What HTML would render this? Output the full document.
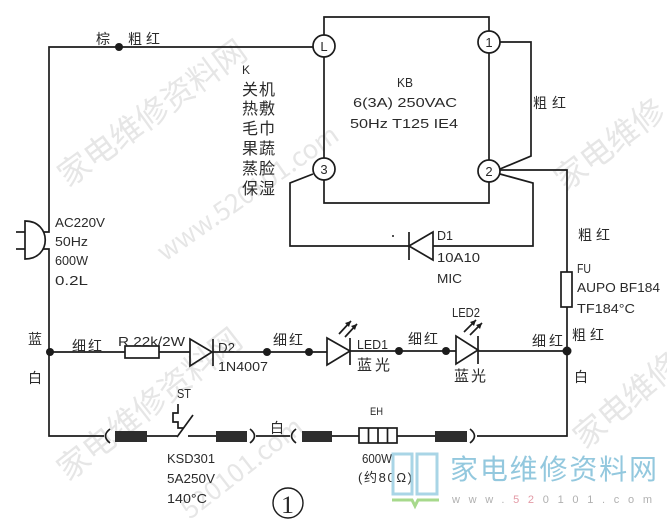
<!DOCTYPE html>
<html><head><meta charset="utf-8"><style>
html,body{margin:0;padding:0;background:#fff;overflow:hidden;width:667px;height:526px;}
svg{display:block;}
text{font-family:"Liberation Sans","Noto Sans CJK SC",sans-serif;fill:#2a2a2a;}
.cn{font-family:"Liberation Sans","Noto Sans CJK SC",sans-serif;}
.wm{font-family:"Noto Sans CJK SC",sans-serif;fill:#e6e6e6;}
</style></head><body>
<svg width="667" height="526" viewBox="0 0 667 526" xmlns="http://www.w3.org/2000/svg" overflow="hidden">
<rect width="667" height="526" fill="#fff"/>
<!-- watermarks -->
<g class="wm">
<text class="wm" x="0" y="0" font-size="32" transform="translate(68,188) rotate(-36)">家电维修资料网</text>
<text class="wm" x="0" y="0" font-size="26" transform="translate(165,262) rotate(-35)">www.520101.com</text>
<text class="wm" x="0" y="0" font-size="32" transform="translate(565,192) rotate(-37)">家电维修</text>
<text class="wm" x="0" y="0" font-size="32" transform="translate(68,482) rotate(-38)">家电维修资料网</text>
<text class="wm" x="0" y="0" font-size="26" transform="translate(190,520) rotate(-38)">520101.com</text>
<text class="wm" x="0" y="0" font-size="32" transform="translate(585,450) rotate(-40)">家电维修</text>
</g>

<g stroke="#1c1c1c" stroke-width="1.7" fill="none">
<!-- top wire and left wire -->
<polyline points="313,47 49,47 49,232 43,232"/>
<polyline points="43,249 49,249 49,436 104,436"/>
<!-- plug -->
<path d="M25,221 C52,221 52,259 25,259 Z"/>
<line x1="16" y1="232" x2="25" y2="232"/>
<line x1="16" y1="249" x2="25" y2="249"/>
<!-- KB box -->
<polyline points="324,35 324,17 489,17 489,31"/>
<line x1="489" y1="53" x2="489" y2="160"/>
<polyline points="489,182 489,203 324,203 324,180"/>
<line x1="324" y1="57" x2="324" y2="158"/>
<circle cx="324" cy="46" r="11"/>
<circle cx="324" cy="169" r="11"/>
<circle cx="489" cy="42" r="11"/>
<circle cx="489" cy="171" r="11"/>
<!-- from 1 -->
<polyline points="500,42 531,42 531,156 500,169"/>
<!-- from 2 right -->
<polyline points="500,170 567,170 567,272"/>
<polyline points="567,307 567,436 477,436"/>
<!-- lower loop -->
<polyline points="500,174 533,183 533,246 433,246"/>
<polyline points="409,246 290,246 290,183 313,174"/>
<!-- D1 -->
<polygon points="409,246 433,232 433,260"/>
<line x1="409" y1="232" x2="409" y2="260"/>
<!-- fuse -->
<rect x="561" y="272" width="11" height="35"/>
<!-- middle row -->
<line x1="49" y1="352" x2="125" y2="352"/>
<rect x="125" y="346" width="34" height="12"/>
<line x1="159" y1="352" x2="190" y2="352"/>
<polygon points="190,339 190,366 212,352"/>
<line x1="213" y1="339" x2="213" y2="366"/>
<line x1="213" y1="352" x2="327" y2="352"/>
<polygon points="327,338 327,365 350,351"/>
<line x1="350" y1="338" x2="350" y2="365"/>
<line x1="350" y1="351" x2="456" y2="351"/>
<polygon points="456,336 456,364 478,350"/>
<line x1="478" y1="336" x2="478" y2="364"/>
<line x1="478" y1="351" x2="567" y2="351"/>
<!-- LED arrows -->
<line x1="339" y1="334" x2="351" y2="321"/>
<line x1="345" y1="337" x2="357" y2="324"/>
<line x1="464" y1="332" x2="476" y2="320"/>
<line x1="470" y1="335" x2="482" y2="323"/>
<!-- bottom row -->
<path d="M110,429 Q101,436 110,443"/>
<line x1="147" y1="436" x2="177" y2="436"/>
<line x1="177" y1="437" x2="193" y2="415"/>
<polyline points="178,404 178,413 173,413 173,422 178,422 178,428 184,428"/>
<line x1="188" y1="436" x2="216" y2="436"/>
<path d="M250,429 Q259,436 250,443"/>
<line x1="256" y1="436" x2="290" y2="436"/>
<path d="M296,429 Q287,436 296,443"/>
<line x1="332" y1="436" x2="359" y2="436"/>
<rect x="359" y="428" width="38" height="15"/>
<line x1="368.5" y1="428" x2="368.5" y2="443"/>
<line x1="378" y1="428" x2="378" y2="443"/>
<line x1="387.5" y1="428" x2="387.5" y2="443"/>
<line x1="397" y1="436" x2="435" y2="436"/>
<path d="M470,429 Q479,436 470,443"/>
<!-- circled 1 -->
<circle cx="288" cy="503" r="15" stroke-width="1.4"/>
</g>
<!-- arrowheads -->
<g fill="#1c1c1c">
<polygon points="351,321 345,323 349,327"/>
<polygon points="357,324 351,326 355,330"/>
<polygon points="476,320 470,322 474,326"/>
<polygon points="482,323 476,325 480,329"/>
<!-- dots -->
<circle cx="119" cy="47" r="4"/>
<circle cx="50" cy="352" r="4"/>
<circle cx="267" cy="352" r="4"/>
<circle cx="309" cy="352" r="4"/>
<circle cx="399" cy="351" r="4"/>
<circle cx="446" cy="351" r="4"/>
<circle cx="567" cy="351" r="4.5"/>
<circle cx="393" cy="236" r="1"/>
<!-- sleeves -->
<rect x="115" y="431" width="32" height="11" fill="#2e2e2e"/>
<rect x="216" y="431" width="31" height="11" fill="#2e2e2e"/>
<rect x="302" y="431" width="30" height="11" fill="#2e2e2e"/>
<rect x="435" y="431" width="32" height="11" fill="#2e2e2e"/>
</g>

<!-- circle labels -->
<g font-size="13" text-anchor="middle">
<text x="324" y="51">L</text>
<text x="324" y="174">3</text>
<text x="489" y="47">1</text>
<text x="489" y="176">2</text>
</g>

<!-- labels -->
<g font-size="14" class="cn">
<text x="96" y="44">棕</text>
<text x="128" y="44" textLength="32">粗红</text>
<text x="242" y="74" font-size="12">K</text>
<text x="242" y="95" font-size="16" textLength="33">关机</text>
<text x="242" y="114" font-size="16" textLength="33">热敷</text>
<text x="242" y="134" font-size="16" textLength="33">毛巾</text>
<text x="242" y="154" font-size="16" textLength="33">果蔬</text>
<text x="242" y="174" font-size="16" textLength="33">蒸脸</text>
<text x="242" y="194" font-size="16" textLength="33">保湿</text>
<text x="533" y="108" textLength="33">粗红</text>
<text x="578" y="240" textLength="32">粗红</text>
<text x="28" y="344">蓝</text>
<text x="28" y="383">白</text>
<text x="72" y="351" textLength="30">细红</text>
<text x="273" y="345" textLength="30">细红</text>
<text x="408" y="344" textLength="30">细红</text>
<text x="532" y="346" textLength="31">细红</text>
<text x="572" y="340" textLength="32">粗红</text>
<text x="574" y="382">白</text>
<text x="357" y="370" font-size="15" textLength="33">蓝光</text>
<text x="454" y="381" font-size="15" textLength="32">蓝光</text>
<text x="270" y="433">白</text>
</g>
<g font-size="13">
<text x="397" y="87" textLength="16" lengthAdjust="spacingAndGlyphs">KB</text>
<text x="353" y="107" textLength="104" lengthAdjust="spacingAndGlyphs">6(3A) 250VAC</text>
<text x="350" y="128" textLength="108" lengthAdjust="spacingAndGlyphs">50Hz T125 IE4</text>
<text x="55" y="227" textLength="50" lengthAdjust="spacingAndGlyphs">AC220V</text>
<text x="55" y="246" textLength="33" lengthAdjust="spacingAndGlyphs">50Hz</text>
<text x="55" y="265" textLength="33" lengthAdjust="spacingAndGlyphs">600W</text>
<text x="55" y="285" textLength="33" lengthAdjust="spacingAndGlyphs">0.2L</text>
<text x="118" y="346" textLength="67" lengthAdjust="spacingAndGlyphs">R 22k/2W</text>
<text x="218" y="352" textLength="17" lengthAdjust="spacingAndGlyphs">D2</text>
<text x="218" y="371" textLength="50" lengthAdjust="spacingAndGlyphs">1N4007</text>
<text x="357" y="349" textLength="31" lengthAdjust="spacingAndGlyphs">LED1</text>
<text x="452" y="317" textLength="28" lengthAdjust="spacingAndGlyphs">LED2</text>
<text x="437" y="240" textLength="16" lengthAdjust="spacingAndGlyphs">D1</text>
<text x="437" y="262" textLength="43" lengthAdjust="spacingAndGlyphs">10A10</text>
<text x="437" y="283" textLength="25" lengthAdjust="spacingAndGlyphs">MIC</text>
<text x="577" y="273" textLength="14" lengthAdjust="spacingAndGlyphs">FU</text>
<text x="577" y="292" textLength="83" lengthAdjust="spacingAndGlyphs">AUPO BF184</text>
<text x="577" y="313" textLength="58" lengthAdjust="spacingAndGlyphs">TF184°C</text>
<text x="177" y="398" textLength="14" lengthAdjust="spacingAndGlyphs">ST</text>
<text x="167" y="463" textLength="48" lengthAdjust="spacingAndGlyphs">KSD301</text>
<text x="167" y="483" textLength="48" lengthAdjust="spacingAndGlyphs">5A250V</text>
<text x="167" y="503" textLength="40" lengthAdjust="spacingAndGlyphs">140°C</text>
<text x="370" y="415" font-size="11" textLength="13" lengthAdjust="spacingAndGlyphs">EH</text>
<text x="362" y="463" textLength="30" lengthAdjust="spacingAndGlyphs">600W</text>
<text x="358" y="482" class="cn" textLength="54">(约80Ω)</text>
<text x="281" y="513" font-size="25" style="font-family:'Liberation Serif',serif" textLength="13" lengthAdjust="spacingAndGlyphs">1</text>
</g>

<!-- logo -->
<g fill="none" stroke="#a9d5e6" stroke-width="3">
<rect x="393" y="454" width="19" height="40"/>
<rect x="417" y="454" width="20" height="40"/>
</g>
<path d="M392,500 H412 L415,506 L418,500 H439" stroke="#a7d98c" stroke-width="3" fill="none"/>
<text x="450" y="479" font-size="28" class="wm" style="fill:#93c8de" textLength="207">家电维修资料网</text>
<text x="452" y="503" font-size="11" style="fill:#b0b0b0" textLength="200">www.<tspan style="fill:#e39aa6">52</tspan>0101.com</text>
</svg>
</body></html>
